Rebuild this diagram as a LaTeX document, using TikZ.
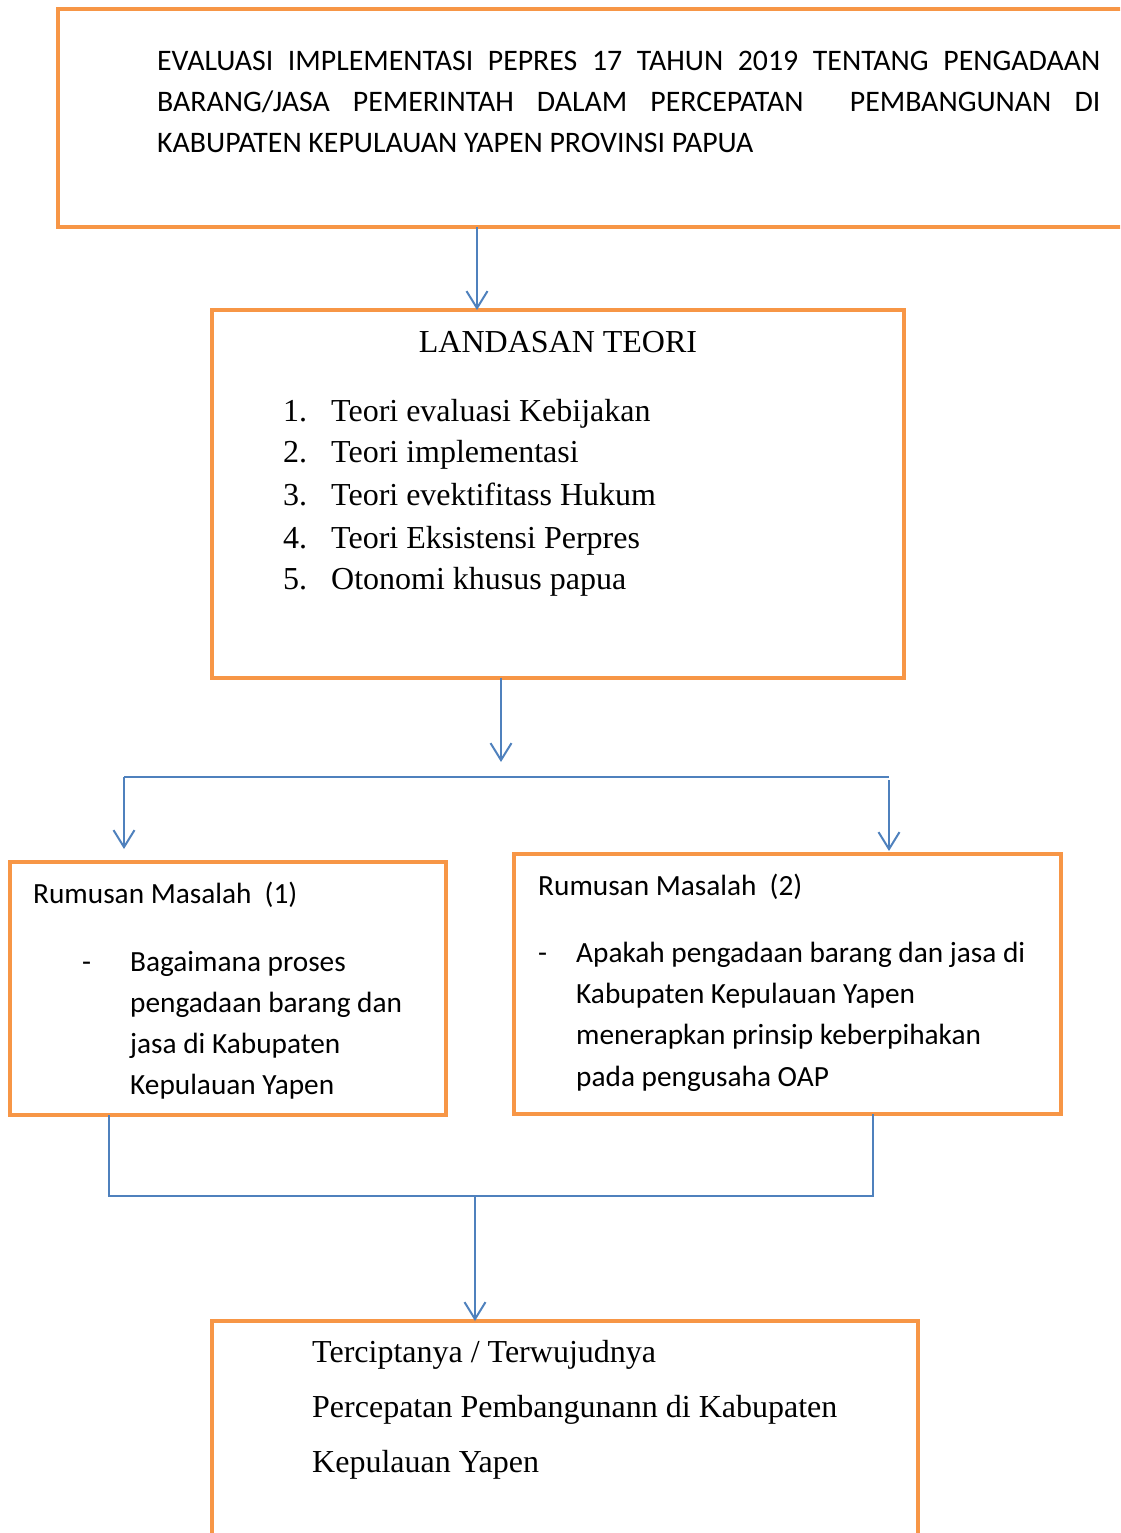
\documentclass[tikz,border=0pt]{standalone}
\usepackage{fontspec}
\setmainfont{Carlito}
\newfontfamily\tnr{Liberation Serif}
\usetikzlibrary{arrows.meta}
\definecolor{boxorange}{HTML}{F79646}
\definecolor{lineblue}{HTML}{4F81BD}
\begin{document}
\begin{tikzpicture}[x=1pt,y=-1pt,
  obox/.style={draw=boxorange, line width=4.5pt, rectangle, inner sep=0pt, outer sep=0pt, anchor=north west},
  cal/.style={anchor=base west, inner sep=0pt, font=\fontsize{29.3}{35}\selectfont},
  caltop/.style={anchor=base west, inner sep=0pt, font=\fontsize{29.8}{35}\selectfont},
  tms/.style={anchor=base west, inner sep=0pt, font=\tnr\fontsize{32}{38}\selectfont},
  conn/.style={draw=lineblue, line width=2pt},
  arr/.style={conn, -{Straight Barb[length=17pt,width=21pt]}}]
\useasboundingbox (0,0) rectangle (1120,1533);
\clip (0,0) rectangle (1120,1533);
% boxes
\node[obox, minimum width=1070pt, minimum height=218pt] (top) at (58,9) {};
\node[obox, minimum width=692pt, minimum height=368pt] (teori) at (212,310) {};
\node[obox, minimum width=436pt, minimum height=253pt] (rm1) at (10,862) {};
\node[obox, minimum width=547pt, minimum height=260pt] (rm2) at (514,854) {};
\node[obox, minimum width=706pt, minimum height=240pt] (hasil) at (212,1321) {};
% top text
\node[caltop] (t1) at (157,70.7) {\makebox[943pt][s]{EVALUASI IMPLEMENTASI PEPRES 17 TAHUN 2019 TENTANG PENGADAAN}};
\node[caltop] (t2) at (157,111.7) {\makebox[943pt][s]{BARANG/JASA PEMERINTAH DALAM PERCEPATAN\ \ PEMBANGUNAN DI}};
\node[caltop] (t3) at (157,152.7) {KABUPATEN KEPULAUAN YAPEN PROVINSI PAPUA};
% landasan teori
\node[tms, anchor=base] (lt) at (558,352) {LANDASAN TEORI};
\node[tms] (n1) at (283,421) {1.};
\node[tms] (i1) at (331,421) {Teori evaluasi Kebijakan};
\node[tms] (n2) at (283,462.7) {2.};
\node[tms] (i2) at (331,462.7) {Teori implementasi};
\node[tms] (n3) at (283,505.5) {3.};
\node[tms] (i3) at (331,505.5) {Teori evektifitass Hukum};
\node[tms] (n4) at (283,548) {4.};
\node[tms] (i4) at (331,548) {Teori Eksistensi Perpres};
\node[tms] (n5) at (283,589.5) {5.};
\node[tms] (i5) at (331,589.5) {Otonomi khusus papua};
% rumusan 1
\node[cal] (r1h) at (33,903) {Rumusan Masalah\ \ (1)};
\node[cal] (r1d) at (82,971) {-};
\node[cal] (r1a) at (130,971) {Bagaimana proses};
\node[cal] (r1b) at (130,1012) {pengadaan barang dan};
\node[cal] (r1c) at (130,1053) {jasa di Kabupaten};
\node[cal] (r1e) at (130,1094.5) {Kepulauan Yapen};
% rumusan 2
\node[cal] (r2h) at (538,895) {Rumusan Masalah\ \ (2)};
\node[cal] (r2d) at (538,962) {-};
\node[cal] (r2a) at (576,962) {Apakah pengadaan barang dan jasa di};
\node[cal] (r2b) at (576,1003) {Kabupaten Kepulauan Yapen};
\node[cal] (r2c) at (576,1044.5) {menerapkan prinsip keberpihakan};
\node[cal] (r2e) at (576,1086) {pada pengusaha OAP};
% hasil
\node[tms] (h1) at (312,1362.3) {Terciptanya / Terwujudnya};
\node[tms] (h2) at (312,1417.7) {Percepatan Pembangunann di Kabupaten};
\node[tms] (h3) at (312,1472.7) {Kepulauan Yapen};
% connectors
\coordinate (p1) at (477,0);
\draw[arr] (top.south -| p1) -- (teori.north -| p1);
\coordinate (p2) at (501,762);
\draw[arr] (teori.south -| p2) -- (p2);
\coordinate (sl) at (124,777);
\coordinate (sr) at (889,777);
\draw[conn] (sl) -- (sr);
\coordinate (tl) at (124,849);
\coordinate (tr) at (889,851);
\coordinate (sr2) at (889,780);
\draw[arr] (sl) -- (tl);
\draw[arr] (sr2) -- (tr);
\coordinate (jl) at (109,1196);
\coordinate (jr) at (873,1196);
\draw[conn] (rm1.south -| jl) -- (jl) -- (jr) -- (rm2.south -| jr);
\coordinate (jm) at (475,1196);
\draw[arr] (jm) -- (hasil.north -| jm);
\end{tikzpicture}
\end{document}
